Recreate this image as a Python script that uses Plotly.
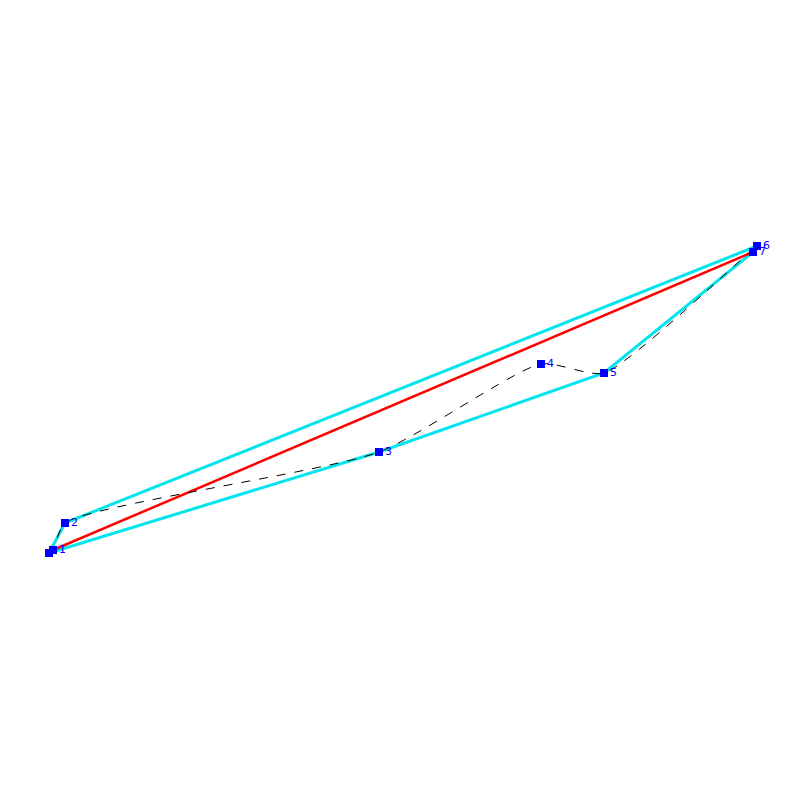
import plotly.graph_objects as go

px = [49, 53, 65, 379, 541, 604, 757, 753]
py = [553, 550, 523, 452, 364, 373, 246, 252]
labels = ["", "1", "2", "3", "4", "5", "6", "7"]
hull = [0, 2, 6, 7, 5, 3, 0]
chord = [1, 7]

fig = go.Figure()
fig.add_trace(go.Scatter(x=[px[i] for i in hull], y=[py[i] for i in hull], mode="lines",
                         line=dict(color="#00e5ee", width=3)))
fig.add_trace(go.Scatter(x=[px[i] for i in chord], y=[py[i] for i in chord], mode="lines",
                         line=dict(color="red", width=2.5)))
fig.add_trace(go.Scatter(x=px, y=py, mode="lines",
                         line=dict(color="black", width=1, dash="dash", shape="spline", smoothing=0.6)))
fig.add_trace(go.Scatter(x=px, y=py, mode="markers+text", text=labels, textposition="middle right",
                         marker=dict(symbol="square", size=8, color="blue"),
                         textfont=dict(color="blue", size=11, family="DejaVu Sans")))
fig.update_layout(width=800, height=800, margin=dict(l=0, r=0, t=0, b=0), showlegend=False,
                  plot_bgcolor="white", paper_bgcolor="white",
                  xaxis=dict(range=[8, 808], visible=False),
                  yaxis=dict(range=[808, 8], visible=False))
fig.write_html("out.html")
